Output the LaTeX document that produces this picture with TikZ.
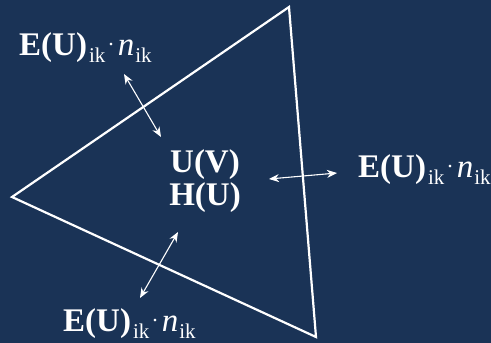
\documentclass[tikz,border=0pt]{standalone}
\usepackage{fontspec}
\setmainfont{Liberation Serif}
\usetikzlibrary{arrows.meta}
\definecolor{bg}{HTML}{1A3356}
\newcommand{\subik}{\raisebox{-7pt}{\fontsize{21}{21}\selectfont ik}}
\newcommand{\flux}{\textbf{E(U)}\hspace{2pt}\subik\hspace{3pt}\raisebox{10pt}{\fontsize{22}{22}\selectfont .}\hspace{4pt}\textit{n}\hspace{1pt}\subik}
\tikzset{
  lbl/.style={text=white, font=\fontsize{33}{36}\selectfont, inner sep=0pt},
  big/.style={lbl, font=\fontsize{33}{36}\selectfont\bfseries},
  tri/.style={draw=white, line width=2.2pt, line join=miter},
  flow/.style={draw=white, line width=1.1pt, {Stealth[length=10pt,width=8pt]}-{Stealth[length=10pt,width=8pt]}}
}
\begin{document}
\begin{tikzpicture}[x=1pt,y=-1pt]
\fill[bg] (0,0) rectangle (491,343);
\useasboundingbox (0,0) rectangle (491,343);
\clip (0,0) rectangle (491,343);
\coordinate (T) at (289,7);
\coordinate (L) at (12,197);
\coordinate (B) at (316,337);
\draw[tri] (T) -- (L) -- (B) -- cycle;
\node[lbl, anchor=base west] (f1) at (19,55) {\flux};
\node[lbl, anchor=base west] (f2) at (358,177) {\flux};
\node[lbl, anchor=base west] (f3) at (63,331) {\flux};
\node[big, anchor=base] (u) at (205,172) {U(V)};
\node[big, anchor=base] (h) at (205,205) {H(U)};
\coordinate (a1) at (124,74);
\coordinate (a2) at (161,137);
\coordinate (b1) at (269,179);
\coordinate (b2) at (337,173);
\coordinate (c1) at (178,232);
\coordinate (c2) at (140,298);
\draw[flow] (a1) -- (a2);
\draw[flow] (b1) -- (b2);
\draw[flow] (c1) -- (c2);
\end{tikzpicture}
\end{document}
